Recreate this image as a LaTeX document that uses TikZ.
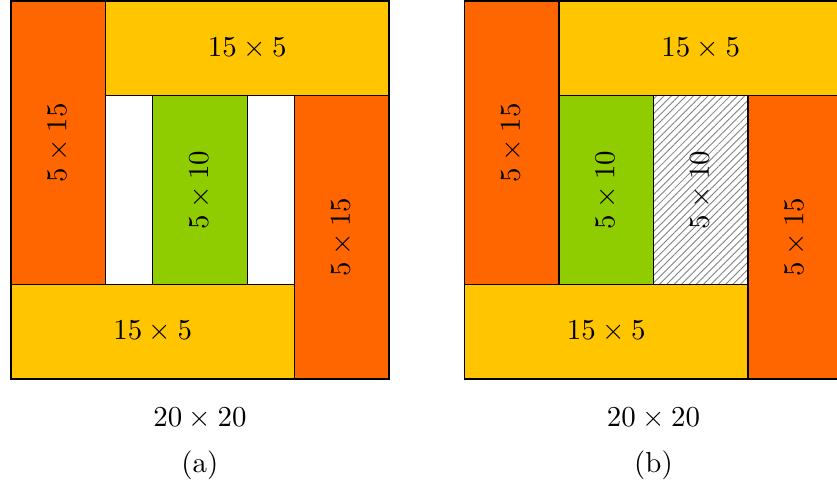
\documentclass[tikz,border=0pt]{standalone}
\usetikzlibrary{patterns.meta}
\definecolor{corange}{HTML}{FF6600}
\definecolor{cyellow}{HTML}{FFC600}
\definecolor{cgreen}{HTML}{8FCC00}
\tikzset{
  blk/.style={draw=black, line width=0.45pt},
  org/.style={blk, fill=corange},
  yel/.style={blk, fill=cyellow},
  grn/.style={blk, fill=cgreen},
  hatch/.style={blk, pattern={Lines[angle=45, distance=1.8pt, line width=0.3pt]}, pattern color=gray},
  lbl/.style={inner sep=0pt},
  vlbl/.style={inner sep=0pt, rotate=90},
}
\begin{document}
\begin{tikzpicture}[x=0.23cm, y=0.23cm]
\useasboundingbox (-0.58,-5.77) rectangle (43.71,20.05);
% (a)
\draw[org] (0,5) rectangle (5,20);
\draw[yel] (5,15) rectangle (20,20);
\draw[grn] (7.5,5) rectangle (12.5,15);
\draw[org] (15,0) rectangle (20,15);
\draw[yel] (0,0) rectangle (15,5);
\draw[blk] (0,0) rectangle (20,20);
\node[vlbl] (a1) at (2.5,12.5) {$5\times 15$};
\node[lbl] (a2) at (12.5,17.5) {$15\times 5$};
\node[vlbl] (a3) at (10,10) {$5\times 10$};
\node[vlbl] (a4) at (17.5,7.5) {$5\times 15$};
\node[lbl] (a5) at (7.5,2.5) {$15\times 5$};
\node[lbl] (a6) at (10,-2.07) {$20\times 20$};
\node[lbl] (a7) at (10,-4.55) {(a)};
% (b)
\draw[org] (24,5) rectangle (29,20);
\draw[yel] (29,15) rectangle (44,20);
\draw[grn] (29,5) rectangle (34,15);
\draw[hatch] (34,5) rectangle (39,15);
\draw[org] (39,0) rectangle (44,15);
\draw[yel] (24,0) rectangle (39,5);
\draw[blk] (24,0) rectangle (44,20);
\node[vlbl] (b1) at (26.5,12.5) {$5\times 15$};
\node[lbl] (b2) at (36.5,17.5) {$15\times 5$};
\node[vlbl] (b3) at (31.5,10) {$5\times 10$};
\node[vlbl] (b4) at (36.5,10) {$5\times 10$};
\node[vlbl] (b5) at (41.5,7.5) {$5\times 15$};
\node[lbl] (b6) at (31.5,2.5) {$15\times 5$};
\node[lbl] (b7) at (34,-2.07) {$20\times 20$};
\node[lbl] (b8) at (34,-4.55) {(b)};
\end{tikzpicture}
\end{document}
